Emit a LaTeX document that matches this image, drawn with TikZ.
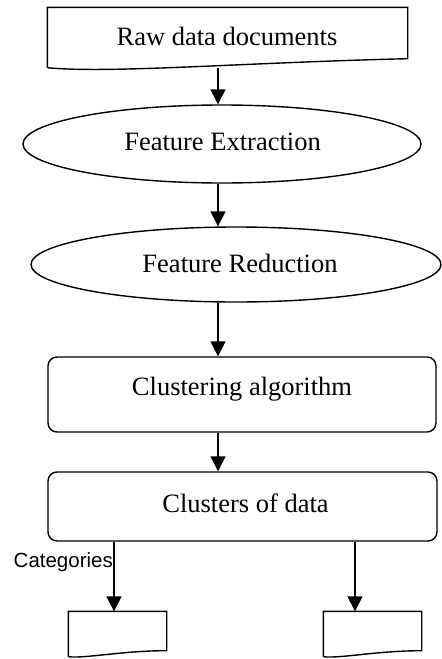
\documentclass[tikz,border=0pt]{standalone}
\usepackage{fontspec}
\setmainfont{Liberation Serif}
\newfontfamily\catfont{Liberation Sans}
\usetikzlibrary{shapes.geometric,arrows.meta}
\begin{document}
\begin{tikzpicture}[x=1pt,y=-1pt,
  line width=1.4pt,
  txt/.style={font=\fontsize{26.5}{30}\selectfont, inner sep=0pt, anchor=base},
  ell/.style={ellipse, draw, inner sep=0pt},
  rbox/.style={draw, rectangle, rounded corners=9pt, inner sep=0pt},
  holder/.style={rectangle, inner sep=0pt},
  arr/.style={-{Triangle[length=15pt,width=15pt]}}
]
\useasboundingbox (0,0) rectangle (442,659);
\coordinate (axis) at (218,0);

% top document
\node[holder, minimum width=359pt, minimum height=59pt] (raw) at (227.5,37.5) {};
\draw (raw.south west) -- (raw.north west) -- (raw.north east) -- ([yshift=9pt]raw.south east)
  .. controls ([xshift=-167pt,yshift=5pt]raw.south east) and ([xshift=62pt,yshift=-6pt]raw.south west) .. (raw.south west);
\node[txt] (rawt) at (227,45) {Raw data documents};

% ellipses
\node[ell, minimum width=398pt, minimum height=78pt] (fe) at (222,144) {};
\node[txt] (fet) at (222.5,150) {Feature Extraction};
\node[ell, minimum width=410pt, minimum height=75pt] (fr) at (236,264.5) {};
\node[txt] (frt) at (240,272) {Feature Reduction};

% boxes
\node[rbox, minimum width=388pt, minimum height=75pt] (cl) at (242,394.5) {};
\node[txt] (clt) at (242,395) {Clustering algorithm};
\node[rbox, minimum width=389pt, minimum height=69pt] (cd) at (242.5,506.5) {};
\node[txt] (cdt) at (245.5,512) {Clusters of data};

% bottom documents
\node[holder, minimum width=97pt, minimum height=44pt] (c1) at (117.5,634) {};
\node[holder, minimum width=97pt, minimum height=44pt] (c2) at (372.5,634) {};
\foreach \d in {c1,c2}{
  \draw (\d.south west) -- (\d.north west) -- (\d.north east) -- ([yshift=6pt]\d.south east)
    .. controls ([xshift=-45pt,yshift=6pt]\d.south east) and ([xshift=17pt,yshift=-2pt]\d.south west) .. (\d.south west);
}

% label
\node[font=\catfont\fontsize{20.5}{24}\selectfont, inner sep=0pt, anchor=base west] (cat) at (13,567) {Categories};

% arrows
\draw[arr] (raw.south -| axis) -- (fe.north -| axis);
\draw[arr] (fe.south -| axis) -- (fr.north -| axis);
\draw[arr] (fr.south -| axis) -- (cl.north -| axis);
\draw[arr] (cl.south -| axis) -- (cd.north -| axis);
\draw[arr] ([xshift=-3.5pt]c1.north |- cd.south) -- ([xshift=-3.5pt]c1.north);
\draw[arr] ([xshift=-17.5pt]c2.north |- cd.south) -- ([xshift=-17.5pt]c2.north);
\end{tikzpicture}
\end{document}
